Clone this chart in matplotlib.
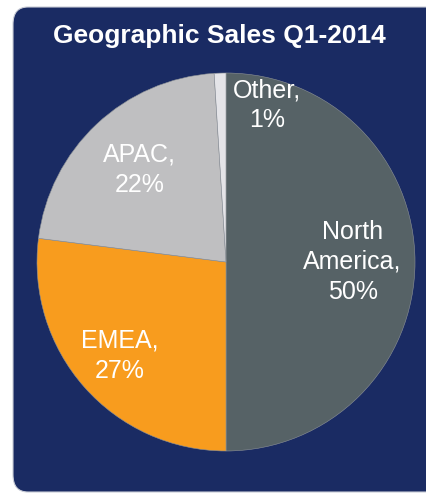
import matplotlib.pyplot as plt
from matplotlib.patches import FancyBboxPatch

regions = ["North\nAmerica,", "EMEA,", "APAC,", "Other,"]
shares = [50, 27, 22, 1]
colors = ["#566266", "#f89c1e", "#bfbfc1", "#e4e4e8"]

plt.rcParams['font.family'] = ['Liberation Sans', 'DejaVu Sans']

fig = plt.figure(figsize=(4.27, 4.93), dpi=100)
fig.patch.set_facecolor("white")

# navy rounded panel behind everything
panel = FancyBboxPatch((13 / 427, 1 / 493), 440 / 427, 485 / 493,
                       boxstyle="round,pad=0,rounding_size=0.035",
                       transform=fig.transFigure, facecolor="#1a2b63",
                       edgecolor="#c9ccd6", linewidth=0.8, zorder=-5)
fig.patches.append(panel)

fig.text(0.514, 0.926, "Geographic Sales Q1-2014", color="white",
         fontsize=19, fontweight="bold", ha="center", va="center")

ax = fig.add_axes([37 / 427, 42 / 493, 378 / 427, 378 / 493])
ax.set_zorder(1)
labels = [f"{r}\n{s}%" for r, s in zip(regions, shares)]
wedges, texts = ax.pie(shares, labels=labels, colors=colors, startangle=90,
                       counterclock=False, labeldistance=0.67,
                       wedgeprops=dict(linewidth=0.4, edgecolor="#8c9196"),
                       textprops=dict(color="white", fontsize=18))
for t in texts:
    t.set_ha("center")
    t.set_va("center")
    t.set_linespacing(1.3)
# EMEA label sits a bit further out
x, y = texts[1].get_position()
texts[1].set_position((x * 1.12, y * 1.12))
# the small slice's label sits to the right of the slice
texts[3].set_position((0.217, 0.83))
ax.set_xlim(-1, 1)
ax.set_ylim(-1, 1)
ax.set_aspect("equal")

fig.savefig("out.png", dpi=100)
